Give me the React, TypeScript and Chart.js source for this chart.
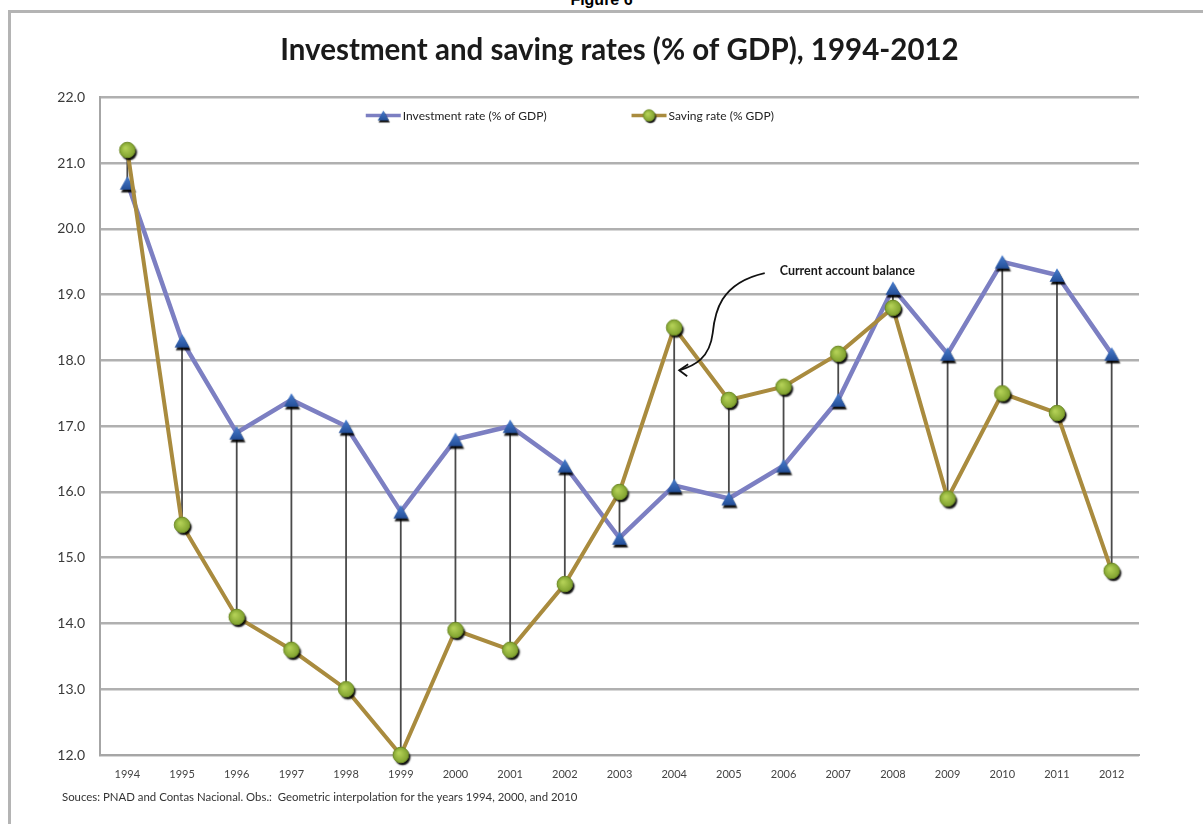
import React, { useEffect, useRef } from "react";
import { Chart, registerables } from "chart.js";

Chart.register(...registerables);

const years = ["1994", "1995", "1996", "1997", "1998", "1999", "2000", "2001", "2002", "2003", "2004", "2005", "2006", "2007", "2008", "2009", "2010", "2011", "2012"];
const investmentRate = [20.7, 18.3, 16.9, 17.4, 17.0, 15.7, 16.8, 17.0, 16.4, 15.3, 16.1, 15.9, 16.4, 17.4, 19.1, 18.1, 19.5, 19.3, 18.1];
const savingRate = [21.2, 15.5, 14.1, 13.6, 13.0, 12.0, 13.9, 13.6, 14.6, 16.0, 18.5, 17.4, 17.6, 18.1, 18.8, 15.9, 17.5, 17.2, 14.8];
const yMin = 12;
const yMax = 22;
const yStep = 1;

const seriesNames = ["Investment rate (% of GDP)", "Saving rate (% GDP)"];
const titleText = "Investment and saving rates (% of GDP), 1994-2012";
const footerText = "Souces: PNAD and Contas Nacional. Obs.:  Geometric interpolation for the years 1994, 2000, and 2010";
const annotationText = "Current account balance";
const annotationYear = "2004";
const annotationTipValue = 17.85;

const INV_LINE = "#7c7fc2";
const SAV_LINE = "#a98b3e";

function makeTriangle(scale: number): HTMLCanvasElement {
  const s = Math.ceil(30 * scale);
  const c = document.createElement("canvas");
  c.width = s;
  c.height = s;
  const ctx = c.getContext("2d")!;
  const cx = s / 2;
  const cy = s / 2;
  const hw = 7.5 * scale;
  const hh = 6.8 * scale;
  ctx.shadowColor = "rgba(0,0,0,0.95)";
  ctx.shadowOffsetX = 1.2 * scale;
  ctx.shadowOffsetY = 2.6 * scale;
  ctx.shadowBlur = 1.2 * scale;
  const g = ctx.createLinearGradient(0, cy - hh, 0, cy + hh);
  g.addColorStop(0, "#4a7fd0");
  g.addColorStop(1, "#244f98");
  ctx.fillStyle = g;
  ctx.beginPath();
  ctx.moveTo(cx, cy - hh);
  ctx.lineTo(cx + hw, cy + hh);
  ctx.lineTo(cx - hw, cy + hh);
  ctx.closePath();
  ctx.fill();
  return c;
}

function makeCircle(scale: number): HTMLCanvasElement {
  const s = Math.ceil(30 * scale);
  const c = document.createElement("canvas");
  c.width = s;
  c.height = s;
  const ctx = c.getContext("2d")!;
  const cx = s / 2;
  const cy = s / 2;
  const r = 7.8 * scale;
  ctx.shadowColor = "rgba(0,0,0,0.95)";
  ctx.shadowOffsetX = 1.8 * scale;
  ctx.shadowOffsetY = 2.4 * scale;
  ctx.shadowBlur = 1.5 * scale;
  const g = ctx.createRadialGradient(cx - 2 * scale, cy - 2 * scale, 1, cx, cy, r);
  g.addColorStop(0, "#b2cf55");
  g.addColorStop(1, "#7fa12e");
  ctx.fillStyle = g;
  ctx.beginPath();
  ctx.arc(cx, cy, r, 0, Math.PI * 2);
  ctx.fill();
  ctx.shadowColor = "transparent";
  ctx.strokeStyle = "#6e8a26";
  ctx.lineWidth = 1 * scale;
  ctx.stroke();
  return c;
}

const hiLowPlugin = {
  id: "hiLow",
  beforeDatasetsDraw(chart: any) {
    const a = chart.getDatasetMeta(0).data;
    const b = chart.getDatasetMeta(1).data;
    const ctx = chart.ctx;
    ctx.save();
    ctx.strokeStyle = "#4a4a4a";
    ctx.lineWidth = 1.8;
    for (let i = 0; i < a.length; i++) {
      if (!a[i] || !b[i]) continue;
      ctx.beginPath();
      ctx.moveTo(a[i].x, a[i].y);
      ctx.lineTo(b[i].x, b[i].y);
      ctx.stroke();
    }
    ctx.restore();
  },
};

const customLegendPlugin = {
  id: "customLegend",
  afterDatasetsDraw(chart: any) {
    const ctx = chart.ctx;
    const area = chart.chartArea;
    const x = chart.scales.x;
    ctx.save();
    ctx.font = "12px Lato";
    ctx.textBaseline = "middle";
    ctx.fillStyle = "#222";
    const y = area.top + 18;
    const items = [
      { text: seriesNames[0], color: INV_LINE, img: makeTriangle(0.75), start: x.getPixelForValue(4.36) },
      { text: seriesNames[1], color: SAV_LINE, img: makeCircle(0.75), start: x.getPixelForValue(9.22) },
    ];
    for (const it of items) {
      const w = 35;
      ctx.strokeStyle = it.color;
      ctx.lineWidth = 3.5;
      ctx.beginPath();
      ctx.moveTo(it.start, y);
      ctx.lineTo(it.start + w, y);
      ctx.stroke();
      ctx.drawImage(it.img, it.start + w / 2 - it.img.width / 2, y - it.img.height / 2);
      ctx.fillText(it.text, it.start + w + 2, y + 1);
    }
    ctx.restore();
  },
};

const annotationPlugin = {
  id: "annotationArrow",
  afterDatasetsDraw(chart: any) {
    const ctx = chart.ctx;
    const xs = chart.scales.x;
    const ys = chart.scales.y;
    const idx = years.indexOf(annotationYear);
    const tipX = xs.getPixelForValue(idx) + 5;
    const tipY = ys.getPixelForValue(annotationTipValue);
    const textX = xs.getPixelForValue(idx + 1.93);
    const textY = ys.getPixelForValue(19.36);
    ctx.save();
    ctx.font = "bold 12.5px Lato";
    ctx.fillStyle = "#1a1a1a";
    ctx.textBaseline = "middle";
    ctx.fillText(annotationText, textX, textY);
    const sx = textX - 15;
    const sy = textY + 2;
    ctx.strokeStyle = "#111";
    ctx.lineWidth = 1.8;
    ctx.beginPath();
    ctx.moveTo(sx, sy);
    ctx.bezierCurveTo(sx - 45, sy + 10, sx - 50, sy + 40, sx - 52, sy + 60);
    ctx.bezierCurveTo(sx - 55, sy + 85, sx - 70, sy + 93, tipX, tipY);
    ctx.stroke();
    ctx.beginPath();
    ctx.moveTo(tipX + 9, tipY - 6);
    ctx.lineTo(tipX, tipY);
    ctx.lineTo(tipX + 8, tipY + 6);
    ctx.stroke();
    ctx.restore();
  },
};

export default function App() {
  const ref = useRef<HTMLCanvasElement | null>(null);
  useEffect(() => {
    if (!ref.current) return;
    const tri = makeTriangle(1);
    const cir = makeCircle(1);
    const chart = new Chart(ref.current, {
      type: "line",
      data: {
        labels: years,
        datasets: [
          {
            label: seriesNames[0],
            data: investmentRate,
            borderColor: INV_LINE,
            backgroundColor: INV_LINE,
            borderWidth: 4.5,
            pointStyle: tri as any,
            pointRadius: 8,
            tension: 0,
            order: 1,
            clip: false as any,
          },
          {
            label: seriesNames[1],
            data: savingRate,
            borderColor: SAV_LINE,
            backgroundColor: SAV_LINE,
            borderWidth: 4,
            pointStyle: cir as any,
            pointRadius: 8,
            tension: 0,
            order: 0,
            clip: false as any,
          },
        ],
      },
      options: {
        animation: false,
        responsive: false,
        maintainAspectRatio: false,
        layout: { padding: { left: 0, right: 64, top: 0, bottom: 0 } },
        plugins: {
          legend: { display: false },
          tooltip: { enabled: false },
          title: {
            display: true,
            fullSize: false,
            text: titleText,
            color: "#1a1a1a",
            font: { family: "Lato", size: 29.5, weight: "bold" },
            padding: { top: 20, bottom: 29 },
          },
        },
        scales: {
          x: {
            type: "category",
            offset: true,
            grid: { display: false, drawTicks: false },
            border: { display: true, color: "#a6a6a6", width: 2 },
            ticks: { color: "#444", font: { family: "Lato", size: 11 }, padding: 13, maxRotation: 0, autoSkip: false },
            afterFit: (s: any) => { s.height = 69; },
          },
          y: {
            min: yMin,
            max: yMax,
            grid: { color: "#b0b0b0", lineWidth: 2.5, drawTicks: false },
            border: { display: true, color: "#a6a6a6", width: 2 },
            ticks: {
              stepSize: yStep,
              color: "#3a3a3a",
              font: { family: "Lato", size: 14 },
              padding: 15,
              callback: (v: any) => Number(v).toFixed(1),
            },
            afterFit: (s: any) => { s.width = 89; },
          },
        },
      },
      plugins: [hiLowPlugin, customLegendPlugin, annotationPlugin],
    });
    return () => chart.destroy();
  }, []);

  return (
    <div style={{ position: "fixed", inset: 0, overflow: "hidden", background: "#fff" }}>
      <div style={{ position: "absolute", top: -8, left: 0, width: 1203, textAlign: "center", font: "bold 16px 'Liberation Sans', Arial, sans-serif", lineHeight: "16px", color: "#000" }}>
        Figure 6
      </div>
      <div style={{ position: "absolute", left: 8, top: 10, width: 1220, height: 840, border: "3px solid #b4b4b4", boxSizing: "content-box", overflow: "hidden" }}>
        <canvas ref={ref} width={1192} height={811} style={{ display: "block", width: 1192, height: 811 }} />
        <div style={{ position: "absolute", left: 51, top: 777, font: "11.4px Lato", color: "#333", whiteSpace: "pre" }}>
          {footerText}
        </div>
      </div>
    </div>
  );
}
